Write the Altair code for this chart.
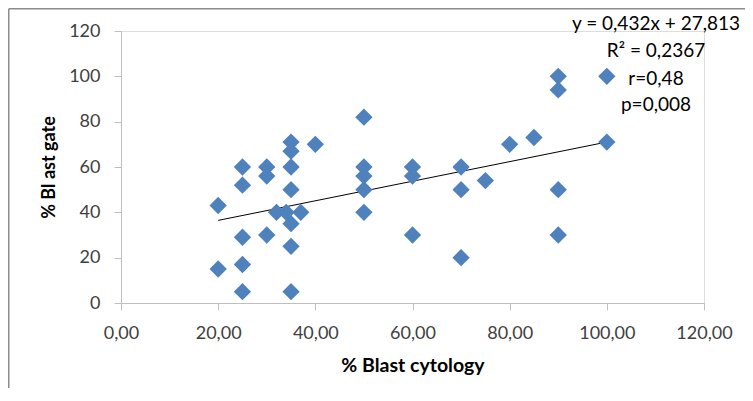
import altair as alt
import pandas as pd

# ---- data ----
blast_cytology = [20, 20, 25, 25, 25, 25, 25, 30, 30, 30, 32, 34, 35, 35, 35, 35, 35, 35, 35, 37, 40,
                  50, 50, 50, 50, 50, 60, 60, 60, 70, 70, 70, 75, 80, 85, 90, 90, 90, 90, 100, 100]
blast_gate = [43, 15, 60, 52, 29, 17, 5, 60, 56, 30, 40, 40, 71, 67, 60, 50, 35, 25, 5, 40, 70,
              82, 60, 56, 50, 40, 60, 56, 30, 60, 50, 20, 54, 70, 73, 100, 94, 50, 30, 100, 71]
trend_x = [20, 100]
trend_y = [36.45, 71.01]
x_ticks = [0, 20, 40, 60, 80, 100, 120]
y_ticks = [0, 20, 40, 60, 80, 100, 120]
annotation_lines = ["y = 0,432x + 27,813", "R\u00b2 = 0,2367", "r=0,48", "p=0,008"]

FONT = "Lato"
W, H = 583, 272
PAD_L, PAD_T = 113, 23
TOTAL_W, TOTAL_H = 737, 380

pts = pd.DataFrame({"x": blast_cytology, "y": blast_gate})
trend = pd.DataFrame({"x": trend_x, "y": trend_y})

xscale = alt.Scale(domain=[0, 120], nice=False, zero=True)
yscale = alt.Scale(domain=[0, 120], nice=False, zero=True)

xaxis = alt.Axis(values=x_ticks, grid=False, labelFlush=False,
                 labelExpr="replace(format(datum.value, '.2f'), '.', ',')",
                 domainColor="#BFBFBF", tickColor="#BFBFBF", tickSize=7,
                 labelPadding=14, labelFontSize=18, labelColor="#404040", labelFont=FONT,
                 title="% Blast cytology", titleFont=FONT, titleFontSize=19.5,
                 titleFontWeight="bold", titleColor="#000000", titlePadding=14)
yaxis = alt.Axis(values=y_ticks, grid=False, labelFlush=False,
                 domainColor="#BFBFBF", tickColor="#BFBFBF", tickSize=7,
                 labelPadding=14, labelFontSize=18, labelColor="#404040", labelFont=FONT,
                 title="% Bl ast gate", titleFont=FONT, titleFontSize=18,
                 titleFontWeight="bold", titleColor="#000000", titlePadding=10)

points = alt.Chart(pts).mark_point(shape="diamond", filled=True, size=300,
                                   color="#4F81BD", opacity=1).encode(
    x=alt.X("x:Q", scale=xscale, axis=xaxis),
    y=alt.Y("y:Q", scale=yscale, axis=yaxis),
)

line = alt.Chart(trend).mark_line(color="#000000", strokeWidth=1).encode(
    x=alt.X("x:Q", scale=xscale),
    y=alt.Y("y:Q", scale=yscale),
)

ann_y = [-7.5, 19.5, 47.5, 73.5]
ann_layers = []
for txt, yy in zip(annotation_lines, ann_y):
    ann_layers.append(
        alt.Chart(pd.DataFrame({"t": [txt]})).mark_text(
            font=FONT, fontSize=19, color="#000000", align="center", baseline="middle"
        ).encode(text="t:N", x=alt.value(535), y=alt.value(yy))
    )

frame_left = alt.Chart(pd.DataFrame({"a": [0]})).mark_rule(color="#8C8C8C", strokeWidth=1.5).encode(
    x=alt.value(-PAD_L + 0.75), y=alt.value(-PAD_T + 0.75), y2=alt.value(TOTAL_H)
)
frame_top = alt.Chart(pd.DataFrame({"a": [0]})).mark_rule(color="#8C8C8C", strokeWidth=1.5).encode(
    y=alt.value(-PAD_T + 0.75), x=alt.value(-PAD_L + 0.75), x2=alt.value(TOTAL_W)
)

chart = alt.layer(frame_left, frame_top, line, points, *ann_layers).properties(
    width=W, height=H,
    autosize=alt.AutoSizeParams(type="none"),
    padding={"left": PAD_L, "top": PAD_T, "right": TOTAL_W - PAD_L - W, "bottom": TOTAL_H - PAD_T - H},
).configure_view(stroke=None).configure(background="white")

chart.save("out.html", embed_options={"renderer": "svg", "actions": False})
